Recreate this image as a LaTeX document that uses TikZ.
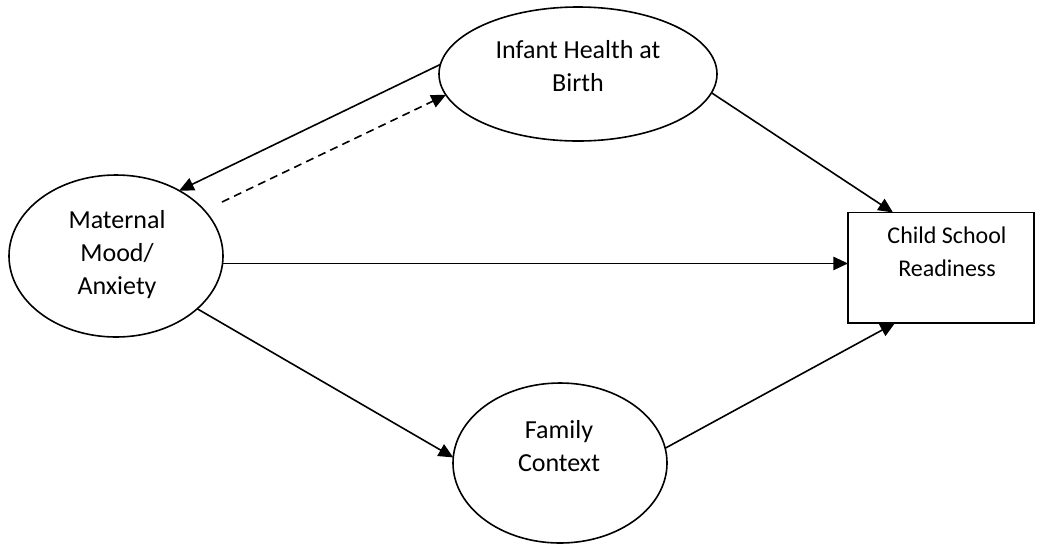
\documentclass[tikz,border=0pt]{standalone}
\usepackage{fontspec}
\setmainfont{Carlito}
\usetikzlibrary{shapes.geometric,arrows.meta,calc}
\begin{document}
\begin{tikzpicture}[x=0.75pt,y=-0.75pt,
  ell/.style={draw,ellipse,line width=1.2pt,inner sep=0pt,outer sep=0pt},
  box/.style={draw,rectangle,line width=1.2pt,inner sep=0pt,outer sep=0pt},
  lbl/.style={align=center,inner sep=0pt,font=\fontsize{19.5pt}{24.75pt}\selectfont},
  lblsm/.style={align=center,inner sep=0pt,font=\fontsize{18pt}{24.75pt}\selectfont},
  arr/.style={line width=1.2pt,-{Triangle[length=11pt,width=10pt]}},
  darr/.style={arr,dash pattern=on 6pt off 4pt}]
\path[use as bounding box] (0,0) rectangle (1037,544);
% shapes
\node[ell,minimum width=208.5pt,minimum height=100.5pt] (inf) at (578,74) {};
\node[ell,minimum width=160.5pt,minimum height=121.5pt] (mat) at (116,256) {};
\node[ell,minimum width=160.5pt,minimum height=120pt] (fam) at (560,463) {};
\node[box,minimum width=139.5pt,minimum height=82.9pt] (csr) at (941,267.75) {};
% texts
\node[lbl] (tinf) at (578,66) {Infant Health at\\Birth};
\node[lbl] (tmat) at (117,255) {Maternal\\Mood/\\Anxiety};
\node[lbl] (tfam) at (559,446) {Family\\Context};
\node[lblsm] (tcsr) at (947,251.5) {Child School\\Readiness};
% connectors
\coordinate (ds) at (222,202);
\draw[arr] (inf.176.7) -- (mat.46.8);
\draw[darr] (ds) -- (inf.189.7);
\draw[arr] (inf.-8) -- ($(csr.north west)+(45,0)$);
\draw[arr] (mat.-4.8) -- (mat.-4.8 -| csr.west);
\draw[arr] (mat.-33.5) -- (fam.177);
\draw[arr] (fam.8) -- ($(csr.south west)+(47,0)$);
\end{tikzpicture}
\end{document}
